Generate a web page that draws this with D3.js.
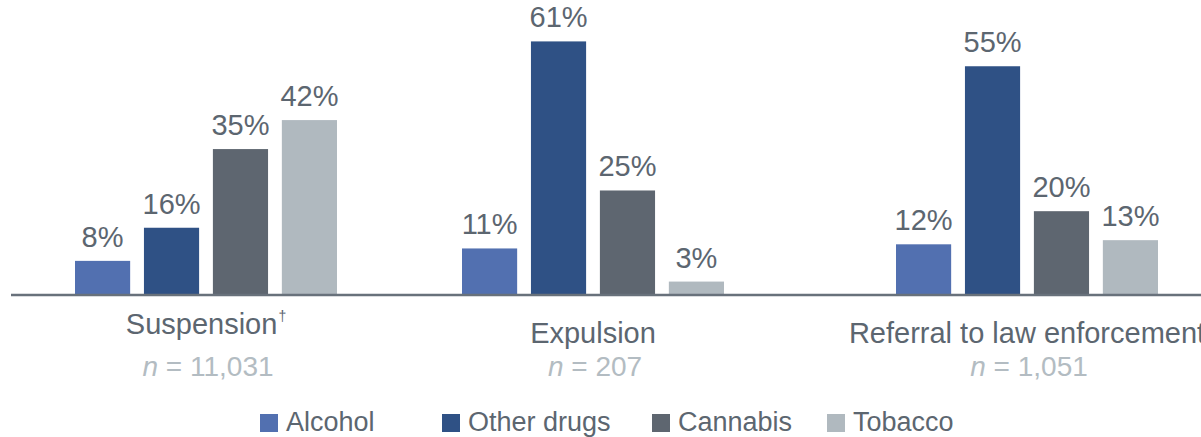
<!DOCTYPE html>
<html>
<head>
<meta charset="utf-8">
<script src="https://cdn.jsdelivr.net/npm/d3@7"></script>
<style>
  body { margin: 0; background: #fff; }
  svg { display: block; font-family: "Liberation Sans", Arial, sans-serif; }
</style>
</head>
<body>
<script>
const categories = ['Suspension', 'Expulsion', 'Referral to law enforcement'];
const categoryMarks = ['\u2020', '', ''];
const sampleSizes = ['11,031', '207', '1,051'];
const series = ['Alcohol', 'Other drugs', 'Cannabis', 'Tobacco'];
const alcohol = [8, 11, 12];
const otherDrugs = [16, 61, 55];
const cannabis = [35, 25, 20];
const tobacco = [42, 3, 13];

const values = [alcohol, otherDrugs, cannabis, tobacco];
const colors = ['#5270b0', '#2f5185', '#5e6670', '#b0b9bf'];

const width = 1201;
const height = 437;
const baseline = 294;

const svg = d3.select('body').append('svg')
  .attr('width', width)
  .attr('height', height);

// group centres are not evenly spaced in the original
const x0 = d3.scaleOrdinal()
  .domain(categories)
  .range([206, 593, 1027]);

const x1 = d3.scaleBand()
  .domain(series)
  .range([-131, 131])
  .paddingInner(0.2)
  .paddingOuter(0);

const y = d3.scaleLinear()
  .domain([0, 71])
  .range([baseline, 0]);

const color = d3.scaleOrdinal().domain(series).range(colors);

const rows = [];
categories.forEach((c, i) => {
  series.forEach((s, j) => {
    rows.push({ cat: c, series: s, value: values[j][i] });
  });
});

const groups = svg.selectAll('.bar')
  .data(rows)
  .enter().append('g')
  .attr('class', 'bar')
  .attr('transform', d => `translate(${x0(d.cat) + x1(d.series)},0)`);

groups.append('rect')
  .attr('x', 0)
  .attr('y', d => y(d.value))
  .attr('width', x1.bandwidth())
  .attr('height', d => baseline - y(d.value))
  .attr('fill', d => color(d.series));

groups.append('text')
  .attr('x', x1.bandwidth() / 2)
  .attr('y', d => y(d.value) - 14)
  .attr('text-anchor', 'middle')
  .attr('font-size', 29)
  .attr('fill', '#5c6670')
  .text(d => d.value + '%');

// baseline
svg.append('line')
  .attr('x1', 11).attr('x2', width)
  .attr('y1', baseline + 1).attr('y2', baseline + 1)
  .attr('stroke', '#68717b')
  .attr('stroke-width', 2.5);

// category labels
const catLabel = svg.selectAll('.cat')
  .data(categories)
  .enter().append('text')
  .attr('class', 'cat')
  .attr('x', d => x0(d))
  .attr('y', (d, i) => categoryMarks[i] ? 334 : 343)
  .attr('text-anchor', 'middle')
  .attr('font-size', 29)
  .attr('fill', '#5c6670');

catLabel.append('tspan').text(d => d);
catLabel.append('tspan')
  .attr('font-size', 14)
  .attr('dx', 1)
  .attr('dy', -13)
  .text((d, i) => categoryMarks[i]);

const nLabel = svg.selectAll('.n')
  .data(categories)
  .enter().append('text')
  .attr('class', 'n')
  .attr('x', d => x0(d) + 2)
  .attr('y', 376)
  .attr('text-anchor', 'middle')
  .attr('font-size', 28)
  .attr('fill', '#b3bcc2');

nLabel.append('tspan').attr('font-style', 'italic').text('n');
nLabel.append('tspan').text((d, i) => ' = ' + sampleSizes[i]);

// legend
const lx = d3.scaleOrdinal().domain(series).range([260, 442, 652, 827]);

const legend = svg.selectAll('.legend')
  .data(series)
  .enter().append('g')
  .attr('class', 'legend')
  .attr('transform', d => `translate(${lx(d)},414)`);

legend.append('rect')
  .attr('width', 18)
  .attr('height', 18)
  .attr('fill', d => color(d));

legend.append('text')
  .attr('x', 26)
  .attr('y', 17)
  .attr('font-size', 27)
  .attr('fill', '#5c6670')
  .text(d => d);
</script>
</body>
</html>
